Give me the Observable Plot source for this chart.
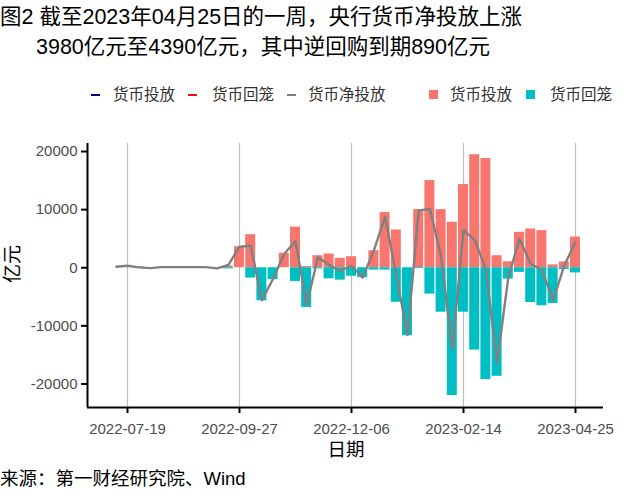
<!DOCTYPE html>
<html>
<head>
<meta charset="utf-8">
<script src="https://cdn.jsdelivr.net/npm/d3@7"></script>
<script src="https://cdn.jsdelivr.net/npm/@observablehq/plot@0.6"></script>
<style>
  html, body { margin: 0; padding: 0; background: #fff; }
  body { width: 640px; height: 498px; position: relative; overflow: hidden;
         font-family: "Liberation Sans", Arial, "Noto Sans CJK SC", sans-serif; }
  .abs { position: absolute; white-space: nowrap; }
  .title { font-size: 21.5px; line-height: 30px; color: #000; }
  .leg { font-size: 15.5px; line-height: 20px; color: #333; }
  .dash { position: absolute; height: 2px; width: 9px; }
  .sq { position: absolute; width: 9px; height: 9px; }
  #chart { position: absolute; left: 0; top: 120px; }
</style>
</head>
<body>
<div class="abs title" style="left:0; top:2px;">图2 截至2023年04月25日的一周，央行货币净投放上涨</div>
<div class="abs title" style="left:36px; top:32px;">3980亿元至4390亿元，其中逆回购到期890亿元</div>

<div class="dash" style="left:91px; top:94px; background:#000080;"></div>
<div class="abs leg" style="left:113px; top:85px;">货币投放</div>
<div class="dash" style="left:188px; top:94px; background:#e8141c;"></div>
<div class="abs leg" style="left:212px; top:85px;">货币回笼</div>
<div class="dash" style="left:287px; top:94px; background:#808080;"></div>
<div class="abs leg" style="left:308px; top:85px;">货币净投放</div>
<div class="sq" style="left:429px; top:90px; background:#F8766D;"></div>
<div class="abs leg" style="left:450px; top:85px;">货币投放</div>
<div class="sq" style="left:526px; top:90px; background:#00BFC4;"></div>
<div class="abs leg" style="left:550px; top:85px;">货币回笼</div>

<div id="chart"></div>

<div class="abs" style="left:-7px; top:252px; width:40px; text-align:center; font-size:19px; line-height:24px; color:#000; transform:rotate(-90deg);">亿元</div>
<div class="abs" style="left:306px; top:438px; width:80px; text-align:center; font-size:18.5px; line-height:24px; color:#000;">日期</div>
<div class="abs" style="left:0; top:467px; font-size:18.5px; line-height:24px; color:#000;">来源：第一财经研究院、Wind</div>

<script>
// ---- data (亿元) ----
const dates = [
  "2022-07-12","2022-07-19","2022-07-26","2022-08-02","2022-08-09","2022-08-16","2022-08-23",
  "2022-08-30","2022-09-06","2022-09-13","2022-09-20","2022-09-27","2022-10-04","2022-10-11",
  "2022-10-18","2022-10-25","2022-11-01","2022-11-08","2022-11-15","2022-11-22","2022-11-29",
  "2022-12-06","2022-12-13","2022-12-20","2022-12-27","2023-01-03","2023-01-10","2023-01-17",
  "2023-01-24","2023-01-31","2023-02-07","2023-02-14","2023-02-21","2023-02-28","2023-03-07",
  "2023-03-14","2023-03-21","2023-03-28","2023-04-04","2023-04-11","2023-04-18","2023-04-25"
];
const invest = [
  0,0,200,0,0,0,0,0,0,0,300,
  3620,5690,0,0,2500,7000,200,2070,2360,1610,
  1900,0,2930,9500,6490,0,10000,15000,10000,7820,
  14310,19450,18800,2070,1030,6090,6670,6380,490,1000,
  5280
];
const withdraw = [
  0,0,0,0,0,0,0,0,0,0,-200,
  0,-1780,-5690,-2050,0,-2360,-6840,-200,-1900,-2130,
  -1470,-1700,-400,-400,-5950,-11700,-150,-4540,-7650,-22000,
  -7650,-14170,-19250,-18680,-1950,-800,-5980,-6550,-6150,-300,
  -890
];
const net = [
  170,340,60,-60,100,100,100,100,100,-100,470,
  3620,3790,-5600,-1900,2400,4550,-6400,1800,500,-550,
  340,-1700,3000,8800,-1300,-11600,9830,10150,1900,-14020,
  6450,4800,-300,-16400,-1670,4940,700,-400,-5600,410,
  4390
];
const xTickLabels = ["2022-07-19","2022-09-27","2022-12-06","2023-02-14","2023-04-25"];
const yTicks = [-20000,-10000,0,10000,20000];

// ---- build ----
const parse = d3.utcParse("%Y-%m-%d");
const rows = dates.map((d, i) => ({date: parse(d), invest: invest[i], withdraw: withdraw[i], net: net[i]}));
const xTicks = xTickLabels.map(parse);
const xDomain = [new Date(Date.UTC(2022, 5, 24)), new Date(Date.UTC(2023, 4, 12, 12))];
const yDomain = [-24050, 21380];
const halfBar = 75; // hours either side of the week date
const left = d => d3.utcHour.offset(d.date, -halfBar);
const right = d => d3.utcHour.offset(d.date, halfBar);

const chart = Plot.plot({
  width: 640,
  height: 345,
  marginTop: 23,
  marginBottom: 58,
  marginLeft: 87,
  marginRight: 37,
  style: {fontFamily: "'Liberation Sans', Arial, sans-serif", background: "transparent"},
  x: {type: "utc", domain: xDomain},
  y: {domain: yDomain},
  marks: [
    Plot.ruleX(xTicks, {stroke: "#bebebe", strokeWidth: 1.2}),
    Plot.rectY(rows, {x1: left, x2: right, y1: 0, y2: "invest", fill: "#F8766D"}),
    Plot.rectY(rows, {x1: left, x2: right, y1: 0, y2: "withdraw", fill: "#00BFC4"}),
    Plot.line(rows, {x: "date", y: "net", stroke: "#808080", strokeWidth: 2.4, strokeLinejoin: "round"}),
    Plot.ruleX([xDomain[0]], {stroke: "#000", strokeWidth: 2}),
    Plot.ruleY([yDomain[0]], {stroke: "#000", strokeWidth: 2}),
    Plot.axisX({ticks: xTicks, tickFormat: d3.utcFormat("%Y-%m-%d"), tickSize: 6, tickPadding: 10,
                stroke: "#000", strokeWidth: 2, fill: "#4d4d4d", fontSize: 15, label: null}),
    Plot.axisY({ticks: yTicks, tickFormat: d => String(d), tickSize: 6, tickPadding: 4,
                stroke: "#000", strokeWidth: 2, fill: "#4d4d4d", fontSize: 15, label: null})
  ]
});
document.getElementById("chart").appendChild(chart);
</script>
</body>
</html>
